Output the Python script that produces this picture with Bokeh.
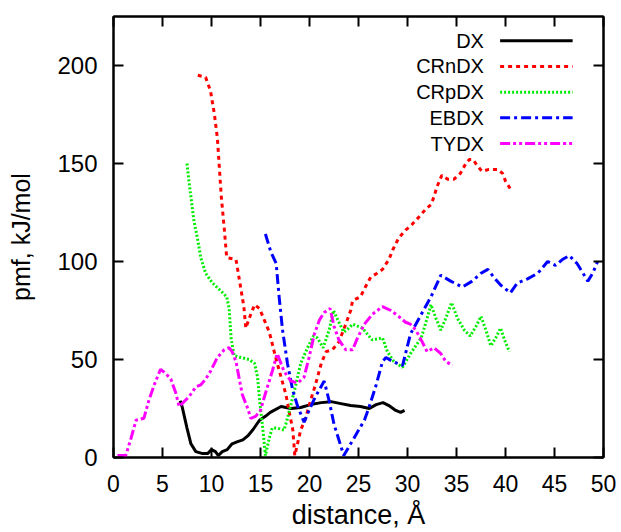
from bokeh.plotting import figure
from bokeh.models import Range1d, LinearAxis, FixedTicker, Label, Arrow
from bokeh.embed import file_html
from bokeh.resources import INLINE

# ---------------- data ----------------
x_ticks = [0, 5, 10, 15, 20, 25, 30, 35, 40, 45, 50]
y_ticks = [0, 50, 100, 150, 200]

dx_x = [6.8, 7.0, 7.5, 7.9, 8.4, 9.1, 9.6, 10.0, 10.4, 10.7, 11.1, 11.6, 12.1, 12.6,
        13.2, 13.7, 14.2, 14.9, 15.5, 16.0, 17.1, 18.1, 19.1, 20.1, 21.2, 22.2, 23.2,
        24.2, 25.2, 26.1, 26.8, 27.5, 28.1, 28.8, 29.3, 29.7]
dx_y = [29, 26, 15, 7, 3, 2, 2, 4, 3, 1, 3, 4, 7, 8, 9, 11, 14, 19, 21, 23, 26, 25,
        25.5, 27, 28, 28.5, 27.5, 26.5, 26, 25, 27, 28, 26.5, 24, 23, 24]

crn_x = [8.6, 9.4, 9.9, 10.3, 10.6, 10.8, 11.0, 11.3, 11.55, 12.5, 12.9, 13.3, 13.5,
         13.85, 14.4, 14.9, 15.4, 15.9, 16.6, 17.1, 17.6, 17.9, 18.3, 18.5, 19.1, 19.6,
         20.1, 20.6, 21.2, 21.7, 22.35, 23.0, 23.7, 24.2, 24.4, 25.2, 25.7, 26.25, 26.9,
         27.45, 28.1, 28.5, 29.1, 29.8, 30.3, 30.85, 31.4, 31.9, 32.4, 32.7, 33.0, 33.5,
         34.1, 34.75, 35.4, 35.95, 36.3, 36.7, 37.1, 37.6, 38.3, 39.2, 39.7, 40.0, 40.5]
crn_y = [195, 194, 187, 175, 163, 148, 133, 117, 102, 101, 89, 77, 66, 71, 78, 76, 70,
         64, 50, 41, 32, 24, 14, 1, 14, 20, 29, 37, 48, 54, 55, 59, 68, 75, 80, 82, 87,
         92, 94, 96, 101, 106, 112, 116, 118, 121, 124, 127, 129, 133, 138, 144, 142,
         142, 145, 150, 152, 152, 149, 146, 147, 147, 145, 141, 137]

crp_x = [7.5, 7.7, 7.95, 8.2, 8.6, 8.9, 9.4, 10.1, 10.95, 11.55, 11.8, 12.0, 12.3, 13.0,
         13.85, 14.4, 14.7, 14.95, 15.25, 15.5, 15.9, 16.2, 16.7, 17.4, 17.7, 18.1, 18.6,
         19.1, 19.8, 20.4, 20.8, 21.4, 22.0, 22.45, 22.9, 23.5, 24.0, 24.4, 25.4, 26.4,
         27.45, 27.95, 28.6, 29.5, 30.3, 31.4, 32.0, 32.4, 32.9, 33.4, 33.9, 34.5, 35.1,
         35.8, 36.4, 37.0, 37.5, 38.0, 38.5, 39.0, 39.5, 39.9, 40.4]
crp_y = [150, 141, 131, 121, 111, 102, 94, 89, 85, 82, 76, 61, 52, 51, 50, 48, 41, 27,
         14, 1, 10, 15, 15, 14, 19, 27, 37, 48, 56, 62, 61, 56, 65, 75, 70, 64, 66, 68,
         66, 60, 61, 54, 49, 46, 53, 61, 71, 78, 71, 65, 71, 79, 71, 65, 62, 67, 72, 65,
         57, 61, 66, 60, 54]

eb_x = [15.5, 16.05, 16.6, 16.9, 17.25, 17.75, 18.3, 18.8, 19.45, 19.95, 20.6, 21.5,
        22.0, 22.5, 23.0, 23.5, 24.55, 25.6, 26.1, 26.8, 27.45, 27.8, 28.5, 29.5, 30.3,
        31.4, 32.4, 33.4, 34.4, 35.6, 36.6, 37.5, 38.2, 38.8, 39.5, 40.5, 41.2, 42.2,
        43.3, 44.3, 45.1, 45.8, 46.5, 47.3, 48.4, 48.9, 49.4]
eb_y = [114, 105, 99, 82, 65, 48, 34, 26, 18, 24, 31, 39, 29, 17, 9, 1, 10, 19, 26, 37,
        49, 51, 49, 47, 63, 73, 82, 93, 90, 87, 90, 94, 96, 92, 88, 84, 89, 91, 94, 100,
        98, 101, 103, 99, 90, 94, 100]

ty_x = [0.4, 1.25, 1.8, 2.3, 3.1, 3.6, 4.15, 4.8, 5.3, 5.85, 6.35, 6.7, 7.1, 7.7, 8.4,
        8.9, 9.4, 9.9, 10.6, 11.3, 11.8, 12.1, 12.5, 12.8, 13.15, 13.7, 14.0, 14.5, 15.0,
        15.4, 16.2, 16.7, 17.4, 18.1, 18.8, 19.45, 19.95, 20.5, 21.0, 21.5, 22.1, 22.5,
        23.0, 23.7, 24.4, 24.9, 25.6, 26.4, 27.45, 28.3, 29.1, 29.8, 30.3, 30.85, 31.5,
        32.0, 32.7, 33.4, 33.9, 34.6]
ty_y = [1, 1, 10, 19, 20, 29, 37, 45, 43, 40, 33, 26, 28, 31, 36, 37, 40, 44, 51, 55,
        56, 54, 49, 41, 32, 25, 20, 21, 24, 31, 44, 53, 44, 39, 38, 41, 51, 63, 70, 74,
        76, 67, 60, 55, 55, 61, 68, 73, 77, 75, 72, 69, 68, 65, 59, 54, 56, 53, 49, 47]

series_names = ["DX", "CRnDX", "CRpDX", "EBDX", "TYDX"]
series_x = [dx_x, crn_x, crp_x, eb_x, ty_x]
series_y = [dx_y, crn_y, crp_y, eb_y, ty_y]

# ---------------- styles ----------------
colors = ["#000000", "#ff0000", "#00ee00", "#0000ff", "#ff00ff"]
dashes = ["solid", "4 4", "2 2", "10 4 3 4", "10 3 3 3 3 3"]
widths = [3, 3, 3, 3, 3]
FONT = "Liberation Sans"

p = figure(width=621, height=532, x_range=Range1d(0, 50), y_range=Range1d(0, 225),
           output_backend="svg", toolbar_location=None,
           min_border_left=113, min_border_right=18, min_border_top=16,
           min_border_bottom=75)
p.background_fill_color = "white"
p.border_fill_color = "white"
p.outline_line_color = "black"
p.outline_line_width = 2
p.outline_line_alpha = 1
p.xgrid.visible = False
p.ygrid.visible = False


def style_axis(ax, ticks, font_size, standoff, show_labels=True):
    ax.ticker = FixedTicker(ticks=ticks)
    ax.axis_line_color = "black"
    ax.axis_line_width = 2
    ax.major_tick_in = 10
    ax.major_tick_out = 0
    ax.major_tick_line_color = "black"
    ax.major_tick_line_width = 2
    ax.minor_tick_line_color = None
    ax.major_label_text_font = FONT
    ax.axis_label_text_font = FONT
    ax.axis_label_text_font_style = "normal"
    ax.axis_label_text_color = "black"
    ax.major_label_standoff = standoff
    ax.major_label_text_font_size = font_size
    if show_labels:
        ax.major_label_text_color = "black"
    else:
        ax.major_label_text_color = None


xa = p.xaxis[0]
ya = p.yaxis[0]
style_axis(xa, x_ticks, "23px", 17)
style_axis(ya, y_ticks, "24px", 16)
xa.axis_label = "distance, Å"
xa.axis_label_text_font_size = "27px"
xa.axis_label_standoff = 5
ya.axis_label = "pmf, kJ/mol"
ya.axis_label_text_font_size = "25px"
ya.axis_label_standoff = 19

top_ax = LinearAxis()
style_axis(top_ax, x_ticks, "1px", 0, show_labels=False)
p.add_layout(top_ax, "above")
right_ax = LinearAxis()
style_axis(right_ax, y_ticks, "1px", 0, show_labels=False)
p.add_layout(right_ax, "right")

for xs, ys, c, d, w in zip(series_x, series_y, colors, dashes, widths):
    p.line(xs, ys, line_color=c, line_dash=d, line_width=w)

# gnuplot-style key: right-aligned label, sample line to its right
key_text_x = 37.8
key_line_x0 = 39.45
key_line_x1 = 46.85
key_top = 212.6
key_step = 13.1
for i, (name, c, d, w) in enumerate(zip(series_names, colors, dashes, widths)):
    ky = key_top - i * key_step
    p.add_layout(Label(x=key_text_x, y=ky, text=name, text_align="right",
                       text_baseline="middle", text_font=FONT,
                       text_font_size="20px", text_color="black"))
    p.add_layout(Arrow(x_start=key_line_x0, y_start=ky, x_end=key_line_x1, y_end=ky,
                       start=None, end=None, line_color=c, line_dash=d, line_width=w))

open("out.html", "w").write(file_html(p, INLINE))
